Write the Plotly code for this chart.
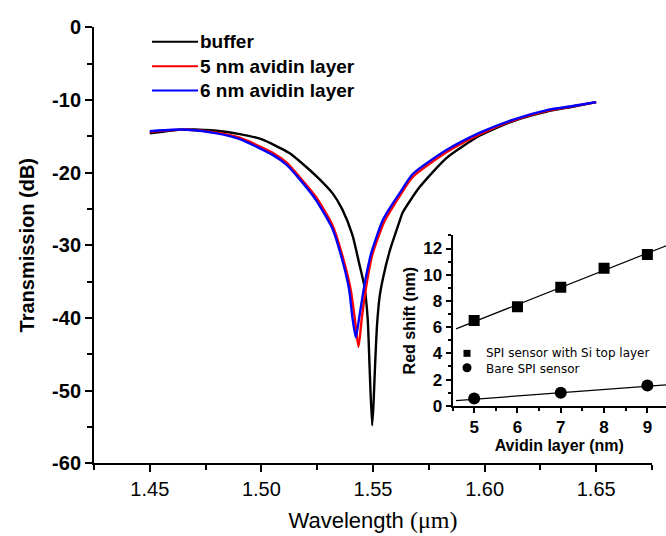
import plotly.graph_objects as go

# ---- main spectra (wavelength in um, transmission in dB) ----
wl_buffer = [1.450, 1.460, 1.470, 1.480, 1.4903, 1.500, 1.5125, 1.517, 1.526, 1.532,
             1.5363, 1.5408, 1.5438, 1.5461, 1.5476, 1.5485, 1.5496, 1.5502, 1.5508,
             1.5518, 1.5530, 1.5545, 1.5573, 1.5618, 1.5633, 1.5709, 1.5829, 1.5979,
             1.6129, 1.6279, 1.640, 1.650]
tr_buffer = [-14.6, -14.2, -14.05, -14.25, -14.7, -15.4, -17.3, -18.4, -20.9, -22.9,
             -25.1, -28.6, -32.5, -35.6, -40.0, -47.0, -54.8, -52.0, -47.5,
             -41.0, -37.0, -34.5, -31.0, -26.8, -25.5, -22.0, -18.0, -14.9,
             -12.9, -11.6, -10.9, -10.3]

wl_5nm = [1.450, 1.460, 1.467, 1.480, 1.4903, 1.5052, 1.5112, 1.5171, 1.5243, 1.5318,
          1.5368, 1.5400, 1.5418, 1.5435, 1.5450, 1.5470, 1.5498, 1.5550, 1.5618,
          1.5678, 1.5829, 1.5979, 1.6129, 1.6279, 1.640, 1.650]
tr_5nm = [-14.4, -14.15, -14.1, -14.5, -15.2, -17.3, -18.6, -20.6, -23.3, -27.2,
          -32.0, -36.1, -40.0, -44.0, -40.0, -35.6, -31.2, -26.8, -23.3,
          -20.6, -17.2, -14.7, -12.8, -11.5, -10.85, -10.3]

wl_6nm = [1.450, 1.460, 1.467, 1.480, 1.4903, 1.5052, 1.5112, 1.5171, 1.5243, 1.5318,
          1.5363, 1.5393, 1.5408, 1.5423, 1.5438, 1.5461, 1.5491, 1.5543, 1.5573,
          1.5618, 1.5678, 1.5829, 1.5979, 1.6129, 1.6279, 1.640, 1.650]
tr_6nm = [-14.3, -14.1, -14.1, -14.6, -15.4, -17.6, -18.9, -20.9, -23.7, -27.7,
          -32.1, -36.1, -40.0, -42.7, -40.0, -35.6, -31.2, -26.6, -25.0,
          -22.9, -20.2, -16.9, -14.5, -12.7, -11.4, -10.8, -10.3]

# ---- inset: red shift vs avidin layer thickness ----
avidin_si = [5, 6, 7, 8, 9]
shift_si = [6.5, 7.55, 9.05, 10.5, 11.55]
avidin_bare = [5, 7, 9]
shift_bare = [0.55, 1.0, 1.55]
fit_si_x = [4.58, 9.45]
fit_si_y = [5.87, 12.23]
fit_bare_x = [4.58, 9.45]
fit_bare_y = [0.40, 1.60]

main_xticks = [1.45, 1.50, 1.55, 1.60, 1.65]
main_xticklabels = ["1.45", "1.50", "1.55", "1.60", "1.65"]
main_yticks = [0, -10, -20, -30, -40, -50, -60]
main_yticklabels = ["0", "-10", "-20", "-30", "-40", "-50", "-60"]
inset_xticks = [5, 6, 7, 8, 9]
inset_yticks = [0, 2, 4, 6, 8, 10, 12]

legend_names = ["buffer", "5 nm avidin layer", "6 nm avidin layer"]
legend_colors = ["black", "#ff0000", "#0000ff"]
inset_legend_names = ["SPI sensor with Si top layer", "Bare SPI sensor"]

W, H = 666, 536
def px(x): return x / W
def py(y): return 1 - y / H

fig = go.Figure()
spec = dict(mode="lines", line_shape="spline", showlegend=False, hoverinfo="skip")
fig.add_trace(go.Scatter(x=wl_buffer, y=tr_buffer, line=dict(color=legend_colors[0], width=2.4, smoothing=0.6), **spec))
fig.add_trace(go.Scatter(x=wl_5nm, y=tr_5nm, line=dict(color=legend_colors[1], width=2.4, smoothing=0.6), **spec))
fig.add_trace(go.Scatter(x=wl_6nm, y=tr_6nm, line=dict(color=legend_colors[2], width=2.4, smoothing=0.6), **spec))

fig.add_trace(go.Scatter(x=fit_si_x, y=fit_si_y, mode="lines", line=dict(color="black", width=1.2),
                         xaxis="x2", yaxis="y2", showlegend=False))
fig.add_trace(go.Scatter(x=fit_bare_x, y=fit_bare_y, mode="lines", line=dict(color="black", width=1.2),
                         xaxis="x2", yaxis="y2", showlegend=False))
fig.add_trace(go.Scatter(x=avidin_si, y=shift_si, mode="markers",
                         marker=dict(symbol="square", size=11, color="black"),
                         xaxis="x2", yaxis="y2", showlegend=False))
fig.add_trace(go.Scatter(x=avidin_bare, y=shift_bare, mode="markers",
                         marker=dict(symbol="circle", size=12, color="black"),
                         xaxis="x2", yaxis="y2", showlegend=False))

axis_common = dict(showline=True, linecolor="black", linewidth=2, ticks="outside",
                   tickcolor="black", tickwidth=2, showgrid=False, zeroline=False, mirror=False)

fig.update_layout(
    width=W, height=H, margin=dict(l=0, r=0, t=0, b=0),
    paper_bgcolor="white", plot_bgcolor="rgba(0,0,0,0)",
    font=dict(family="Liberation Sans, Arial, sans-serif", color="black"),
    xaxis=dict(domain=[px(94), px(652)], range=[1.425, 1.675], tickvals=main_xticks,
               ticktext=main_xticklabels, ticklen=7,
               tickfont=dict(size=20),
               minor=dict(dtick=0.025, tick0=1.425, ticks="outside", ticklen=5, tickcolor="black", tickwidth=2),
               title=dict(text="Wavelength <span style='font-family:Liberation Serif, Times New Roman;font-size:24px'>(μm)</span>",
                          font=dict(size=22), standoff=13),
               anchor="y", **axis_common),
    yaxis=dict(domain=[py(471.5), py(17)], range=[-60, 0], tickvals=main_yticks,
               ticktext=["<b>" + t + "</b>" for t in main_yticklabels], ticklen=7,
               tickfont=dict(size=20),
               minor=dict(dtick=5, ticks="outside", ticklen=5, tickcolor="black", tickwidth=2),
               title=dict(text="<b>Transmission (dB)</b>", font=dict(size=20), standoff=12),
               anchor="x", **axis_common),
    xaxis2=dict(domain=[px(452.5), 1.0], range=[4.5, 9.43], tickvals=inset_xticks,
                ticktext=["<b>" + str(v) + "</b>" for v in inset_xticks], ticklen=5,
                tickfont=dict(size=17),
                minor=dict(dtick=0.5, ticks="outside", ticklen=3, tickcolor="black", tickwidth=1.5),
                title=dict(text="<b>Avidin layer (nm)</b>", font=dict(size=16), standoff=2),
                anchor="y2", **axis_common),
    yaxis2=dict(domain=[py(411.7), py(234)], range=[0, 13], tickvals=inset_yticks,
                ticktext=["<b>" + str(v) + "</b>" for v in inset_yticks], ticklen=5,
                tickfont=dict(size=17),
                minor=dict(dtick=1, ticks="outside", ticklen=3, tickcolor="black", tickwidth=1.5),
                title=dict(text="<b>Red shift (nm)</b>", font=dict(size=16), standoff=4),
                anchor="x2", **axis_common),
)

# ---- main legend (line keys + one multi-line text block) ----
for col, yy in zip(legend_colors, [32, 57.5, 83]):
    fig.add_shape(type="line", xref="paper", yref="paper", x0=px(152), x1=px(198), y0=py(yy), y1=py(yy),
                  line=dict(color=col, width=2))
fig.add_annotation(text="<br>".join("<b>" + n + "</b>" for n in legend_names),
                   xref="paper", yref="paper", x=px(199), y=py(57.5), xanchor="left", yanchor="middle",
                   align="left", showarrow=False, borderpad=0, font=dict(size=19, color="black"))

# ---- inset legend ----
fig.add_shape(type="rect", xref="paper", yref="paper", xsizemode="pixel", ysizemode="pixel",
              xanchor=px(467), yanchor=py(357), x0=-3.5, x1=3.5, y0=-3.5, y1=3.5,
              fillcolor="black", line=dict(width=0))
fig.add_shape(type="circle", xref="paper", yref="paper", xsizemode="pixel", ysizemode="pixel",
              xanchor=px(467), yanchor=py(372), x0=-4.5, x1=4.5, y0=-4.5, y1=4.5,
              fillcolor="black", line=dict(width=0))
fig.add_annotation(text="<br>".join(inset_legend_names), xref="paper", yref="paper",
                   x=px(485), y=py(364.5), xanchor="left", yanchor="middle", align="left",
                   showarrow=False, borderpad=0,
                   font=dict(size=12, family="DejaVu Sans, sans-serif", color="black"))

fig.write_html("out.html", config={"displayModeBar": False},
               post_script="document.body.style.margin='0';document.body.style.overflow='hidden';")
